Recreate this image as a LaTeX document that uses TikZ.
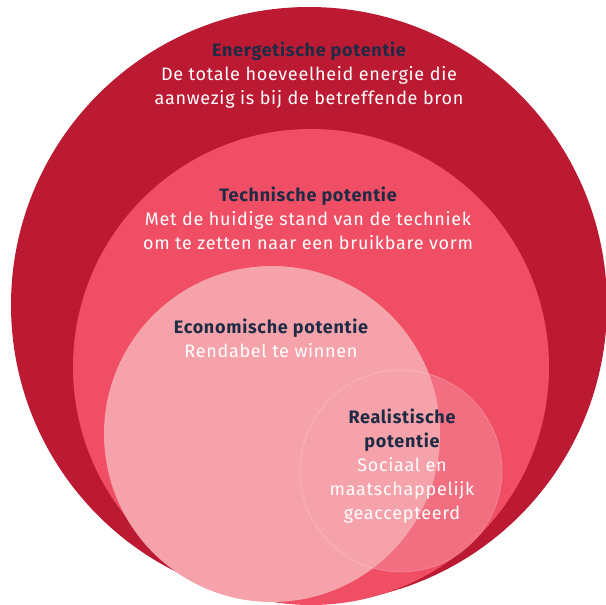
\documentclass[tikz,border=0pt]{standalone}
\usepackage{fontspec}
\setmainfont{Fira Sans}[LetterSpace=4]
\definecolor{energierood}{HTML}{BC1A33}
\definecolor{technrood}{HTML}{EF4E64}
\definecolor{econroze}{HTML}{F5A2AA}
\definecolor{titelblauw}{HTML}{1E2B45}
\tikzset{
  label/.style={align=center, text=white, anchor=base, inner sep=0pt,
    font=\fontsize{18}{24}\selectfont},
}
\newcommand{\titel}[1]{\textcolor{titelblauw}{\bfseries #1}}
\begin{document}
\begin{tikzpicture}[x=1pt,y=-1pt]
  \useasboundingbox (0,0) rectangle (606,605);
  % cirkels
  \fill[energierood] (309,305) circle (298pt);
  \fill[technrood] (311,367) circle (238pt);
  \fill[econroze] (272,434) circle (168pt);
  \fill[econroze, fill opacity=0.4, draw=white, draw opacity=0.25, line width=0.6pt]
    (401,471) circle (101pt);
  % teksten (base = laatste regel)
  \node[label] (energie) at (309,104)
    {\titel{Energetische potentie}\\De totale hoeveelheid energie die\\aanwezig is bij de betreffende bron};
  \node[label] (techniek) at (308,249)
    {\titel{Technische potentie}\\Met de huidige stand van de techniek\\om te zetten naar een bruikbare vorm};
  \node[label] (economie) at (271,357)
    {\titel{Economische potentie}\\Rendabel te winnen};
  \node[label] (realistisch) at (402,519)
    {\titel{Realistische}\\\titel{potentie}\\Sociaal en\\maatschappelijk\\geaccepteerd};
\end{tikzpicture}
\end{document}
